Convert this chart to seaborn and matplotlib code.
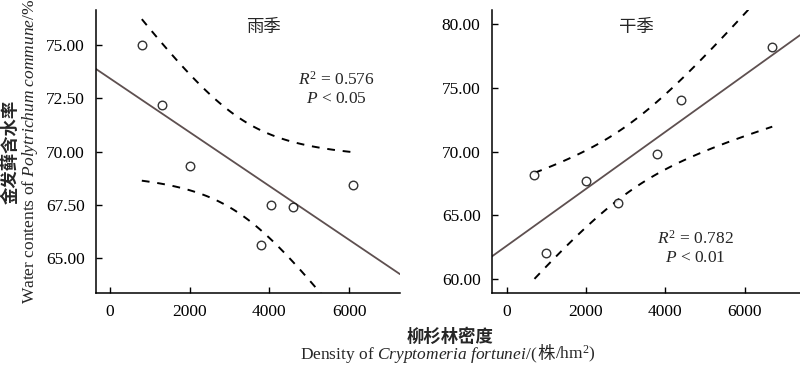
import numpy as np
import pandas as pd
import matplotlib
matplotlib.use("Agg")
import matplotlib.pyplot as plt
import seaborn as sns
from matplotlib.offsetbox import TextArea, HPacker, AnchoredOffsetbox

# 雨季 (rainy season)
wet_density = [800, 1300, 2000, 3800, 4050, 4600, 6100]
wet_water = [75.00, 72.17, 69.33, 65.60, 67.50, 67.40, 68.44]
# 干季 (dry season)
dry_density = [700, 1000, 2000, 2800, 3800, 4400, 6700]
dry_water = [68.17, 62.05, 67.72, 65.97, 69.84, 74.06, 78.22]

wet_ticks = [65.0, 67.5, 70.0, 72.5, 75.0]
dry_ticks = [60.0, 65.0, 70.0, 75.0, 80.0]
x_ticks = [0, 2000, 4000, 6000]

sns.set_style("ticks")
plt.rcParams['font.family'] = ['Liberation Serif', 'Noto Sans CJK SC']
plt.rcParams['mathtext.fontset'] = 'custom'
plt.rcParams['mathtext.rm'] = 'Liberation Serif'
plt.rcParams['mathtext.it'] = 'Liberation Serif:italic'
cjk = ['Noto Sans CJK SC', 'Liberation Serif']

fig = plt.figure(figsize=(8, 3.67), dpi=100, facecolor='white')
ax1 = fig.add_axes([0.12, 0.2016, 0.38, 0.771])
ax2 = fig.add_axes([0.6146, 0.2016, 0.3854, 0.771])


def panel(ax, xs, ys, xlim, ylim, yticks, title, tpos, r2, p, spos):
    df = pd.DataFrame({'x': xs, 'y': ys})
    ax.set_xlim(*xlim)
    ax.set_ylim(*ylim)
    sns.regplot(data=df, x='x', y='y', ax=ax, ci=None, truncate=False,
                scatter_kws=dict(s=38, facecolors='white', edgecolors='black',
                                 linewidths=1.0, zorder=3),
                line_kws=dict(color='#5e5050', lw=1.3, zorder=2))
    # 95% confidence band of the mean (t, df = n-2 = 5)
    x = np.array(xs, float)
    y = np.array(ys, float)
    n = len(x)
    b, a = np.polyfit(x, y, 1)
    s = np.sqrt(np.sum((y - (a + b * x)) ** 2) / (n - 2))
    sxx = np.sum((x - x.mean()) ** 2)
    xx = np.linspace(x.min(), x.max(), 100)
    fit = a + b * xx
    half = 2.571 * s * np.sqrt(1 / n + (xx - x.mean()) ** 2 / sxx)
    ax.plot(xx, fit + half, ls=(0, (4, 4)), color='black', lw=1.4)
    ax.plot(xx, fit - half, ls=(0, (4, 4)), color='black', lw=1.4)

    ax.set_xlim(*xlim)
    ax.set_ylim(*ylim)
    ax.set_xticks(x_ticks)
    ax.set_yticks(yticks)
    ax.yaxis.set_major_formatter(plt.FuncFormatter(lambda v, _: f'{v:.2f}'))
    ax.tick_params(direction='in', length=4, width=1, labelsize=12.5,
                   colors='black', pad=8)
    ax.set_xlabel('')
    ax.set_ylabel('')
    for side in ['top', 'right']:
        ax.spines[side].set_visible(False)
    for side in ['left', 'bottom']:
        ax.spines[side].set_linewidth(1.1)
        ax.spines[side].set_color('black')
    ax.text(tpos[0], tpos[1], title, transform=ax.transAxes, ha='center',
            va='center', fontsize=12.5, family=cjk)
    ax.text(spos[0], spos[1], r'$R^2$ = ' + r2, transform=ax.transAxes,
            ha='center', va='center', fontsize=12.5)
    ax.text(spos[0], spos[1] - 0.069, r'$P$ < ' + p, transform=ax.transAxes,
            ha='center', va='center', fontsize=12.5)


panel(ax1, wet_density, wet_water, (-350, 7280), (63.36, 76.64), wet_ticks,
      '雨季', (0.55, 0.94), '0.576', '0.05', (0.79, 0.753))
panel(ax2, dry_density, dry_water, (-380, 7400), (58.9, 81.1), dry_ticks,
      '干季', (0.47, 0.94), '0.782', '0.01', (0.661, 0.191))

# y label (two lines)
fig.text(0.0135, 0.587, '金发藓含水率', rotation=90, ha='center', va='center',
         fontsize=12.5, family=cjk, fontweight='bold')
fig.text(0.038, 0.587, r'Water contents of $\mathit{Polytrichum\ commune}$/%',
         rotation=90, ha='center', va='center', fontsize=12.5)

# x label (two lines)
fig.text(0.5625, 0.082, '柳杉林密度', ha='center', va='center', fontsize=12.5,
         family=cjk, fontweight='bold')
parts = [
    TextArea(r'Density of $\mathit{Cryptomeria\ fortunei}$/(',
             textprops=dict(fontsize=12.5)),
    TextArea('株', textprops=dict(fontsize=12.5, family=cjk)),
    TextArea(r'/hm$^{2}$)', textprops=dict(fontsize=12.5)),
]
box = HPacker(children=parts, align='baseline', pad=0, sep=0)
anch = AnchoredOffsetbox(loc='center', child=box, frameon=False,
                         bbox_to_anchor=(0.56, 0.033),
                         bbox_transform=fig.transFigure, borderpad=0, pad=0)
fig.add_artist(anch)

plt.savefig('out.png', dpi=100, facecolor='white')
